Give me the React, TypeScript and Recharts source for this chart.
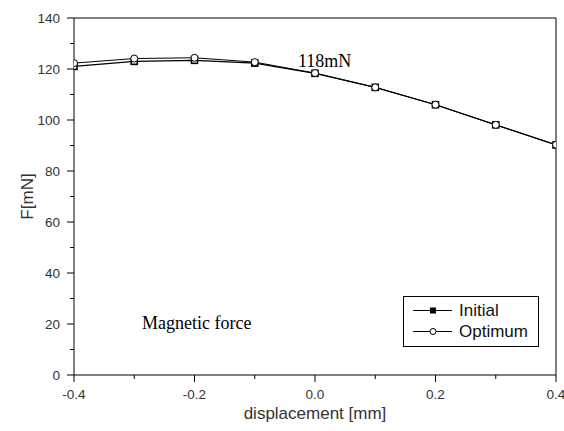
import { LineChart, Line, XAxis, YAxis, Legend, Customized, ReferenceLine } from 'recharts'

const displacement = [-0.4, -0.3, -0.2, -0.1, 0, 0.1, 0.2, 0.3, 0.4]
const initialForce = [121.0, 123.0, 123.4, 122.3, 118.3, 112.8, 106.0, 98.1, 90.2]
const optimumForce = [122.3, 124.1, 124.4, 122.7, 118.4, 112.8, 106.0, 98.1, 90.3]

const xTicks = [-0.4, -0.3, -0.2, -0.1, 0, 0.1, 0.2, 0.3, 0.4]
const xMajor = [-0.4, -0.2, 0, 0.2, 0.4]
const yTicks = [0, 10, 20, 30, 40, 50, 60, 70, 80, 90, 100, 110, 120, 130, 140]
const yMajor = [0, 20, 40, 60, 80, 100, 120, 140]
const xDomain = [-0.4, 0.4]
const yDomain = [0, 140]

const data = displacement.map((d, i) => ({
  x: d,
  initial: initialForce[i],
  optimum: optimumForce[i],
}))

const SANS = '"Liberation Sans", Arial, sans-serif'
const SERIF = '"Liberation Serif", "Times New Roman", serif'
const TICK_SIZE = 7
const MINOR_SIZE = 4
const TICK_GAP = 7

const isMajor = (v: number, list: number[]) => list.some((m) => Math.abs(m - v) < 1e-9)

const XTick = (props: any) => {
  const { x, y, payload } = props
  const axisY = y - TICK_SIZE - TICK_GAP
  const major = isMajor(payload.value, xMajor)
  return (
    <g>
      <line x1={x} x2={x} y1={axisY} y2={axisY + (major ? TICK_SIZE : MINOR_SIZE)} stroke="#000" />
      {major && (
        <text x={x} y={y} dy="0.71em" textAnchor="middle" fontSize={13.5} fill="#333" fontFamily={SANS}>
          {payload.value.toFixed(1)}
        </text>
      )}
    </g>
  )
}

const YTick = (props: any) => {
  const { x, y, payload } = props
  const axisX = x + TICK_SIZE + TICK_GAP
  const major = isMajor(payload.value, yMajor)
  return (
    <g>
      <line x1={axisX} x2={axisX - (major ? TICK_SIZE : MINOR_SIZE)} y1={y} y2={y} stroke="#000" />
      {major && (
        <text x={x} y={y} dy="0.35em" textAnchor="end" fontSize={13.5} fill="#333" fontFamily={SANS}>
          {payload.value}
        </text>
      )}
    </g>
  )
}

const SquareDot = (props: any) => {
  const { cx, cy, index } = props
  if (cx == null || cy == null) return null
  return <rect key={`sq-${index}`} x={cx - 3} y={cy - 3} width={6} height={6} fill="#fff" stroke="#000" strokeWidth={1.6} />
}

const CircleDot = (props: any) => {
  const { cx, cy, index } = props
  if (cx == null || cy == null) return null
  return <circle key={`ci-${index}`} cx={cx} cy={cy} r={3.5} fill="#fff" stroke="#000" strokeWidth={1} />
}

const renderLegend = (props: any) => {
  const items = props.payload || []
  return (
    <div
      style={{
        border: '1px solid #000',
        boxSizing: 'border-box',
        width: 136,
        height: 51,
        paddingTop: 3,
        background: '#fff',
        fontFamily: SANS,
        fontSize: 17,
        color: '#111',
      }}
    >
      {items.map((it: any) => (
        <div key={it.value} style={{ display: 'flex', alignItems: 'center', height: 21 }}>
          <svg width={40} height={21} style={{ marginLeft: 9 }}>
            <line x1={0} x2={39} y1={10.5} y2={10.5} stroke="#000" />
            {it.dataKey === 'initial' ? (
              <rect x={17} y={7.5} width={6} height={6} fill="#000" />
            ) : (
              <circle cx={20} cy={10.5} r={3} fill="#fff" stroke="#000" />
            )}
          </svg>
          <span style={{ marginLeft: 6, lineHeight: '21px' }}>{it.value}</span>
        </div>
      ))}
    </div>
  )
}

const Notes = () => (
  <g fontFamily={SERIF} fontSize={18} fill="#000">
    <text x={298} y={67}>118mN</text>
    <text x={142} y={329}>Magnetic force</text>
  </g>
)

export default function App() {
  return (
    <div style={{ position: 'absolute', left: 0, top: 0, background: '#fff' }}>
      <LineChart
        width={564}
        height={431}
        data={data}
        margin={{ top: 18, right: 8, bottom: 0, left: 0 }}
      >
        <XAxis
          dataKey="x"
          type="number"
          domain={xDomain}
          ticks={xTicks}
          tick={<XTick />}
          tickLine={false}
          tickSize={TICK_SIZE}
          tickMargin={TICK_GAP}
          interval={0}
          height={56}
          axisLine={{ stroke: '#000' }}
          allowDataOverflow
          label={{
            value: 'displacement [mm]',
            position: 'insideBottom',
            offset: 12,
            fontSize: 17,
            fill: '#333',
            fontFamily: SANS,
          }}
        />
        <YAxis
          type="number"
          domain={yDomain}
          ticks={yTicks}
          tick={<YTick />}
          tickLine={false}
          tickSize={TICK_SIZE}
          tickMargin={TICK_GAP}
          interval={0}
          width={74}
          axisLine={{ stroke: '#000' }}
          label={{
            value: 'F[mN]',
            angle: -90,
            position: 'center',
            dx: -10,
            fontSize: 17,
            fill: '#333',
            fontFamily: SANS,
          }}
        />
        <ReferenceLine y={yDomain[1]} stroke="#000" ifOverflow="extendDomain" />
        <ReferenceLine x={xDomain[1]} stroke="#000" ifOverflow="extendDomain" />
        <Line
          name="Initial"
          dataKey="initial"
          stroke="#000"
          strokeWidth={1.2}
          dot={SquareDot}
          activeDot={false}
          isAnimationActive={false}
        />
        <Line
          name="Optimum"
          dataKey="optimum"
          stroke="#000"
          strokeWidth={1}
          dot={CircleDot}
          activeDot={false}
          isAnimationActive={false}
        />
        <Legend
          content={renderLegend}
          layout="vertical"
          align="center"
          verticalAlign="middle"
          wrapperStyle={{ left: 403, top: 296, width: 136, height: 51 }}
        />
        <Customized component={Notes} />
      </LineChart>
    </div>
  )
}
